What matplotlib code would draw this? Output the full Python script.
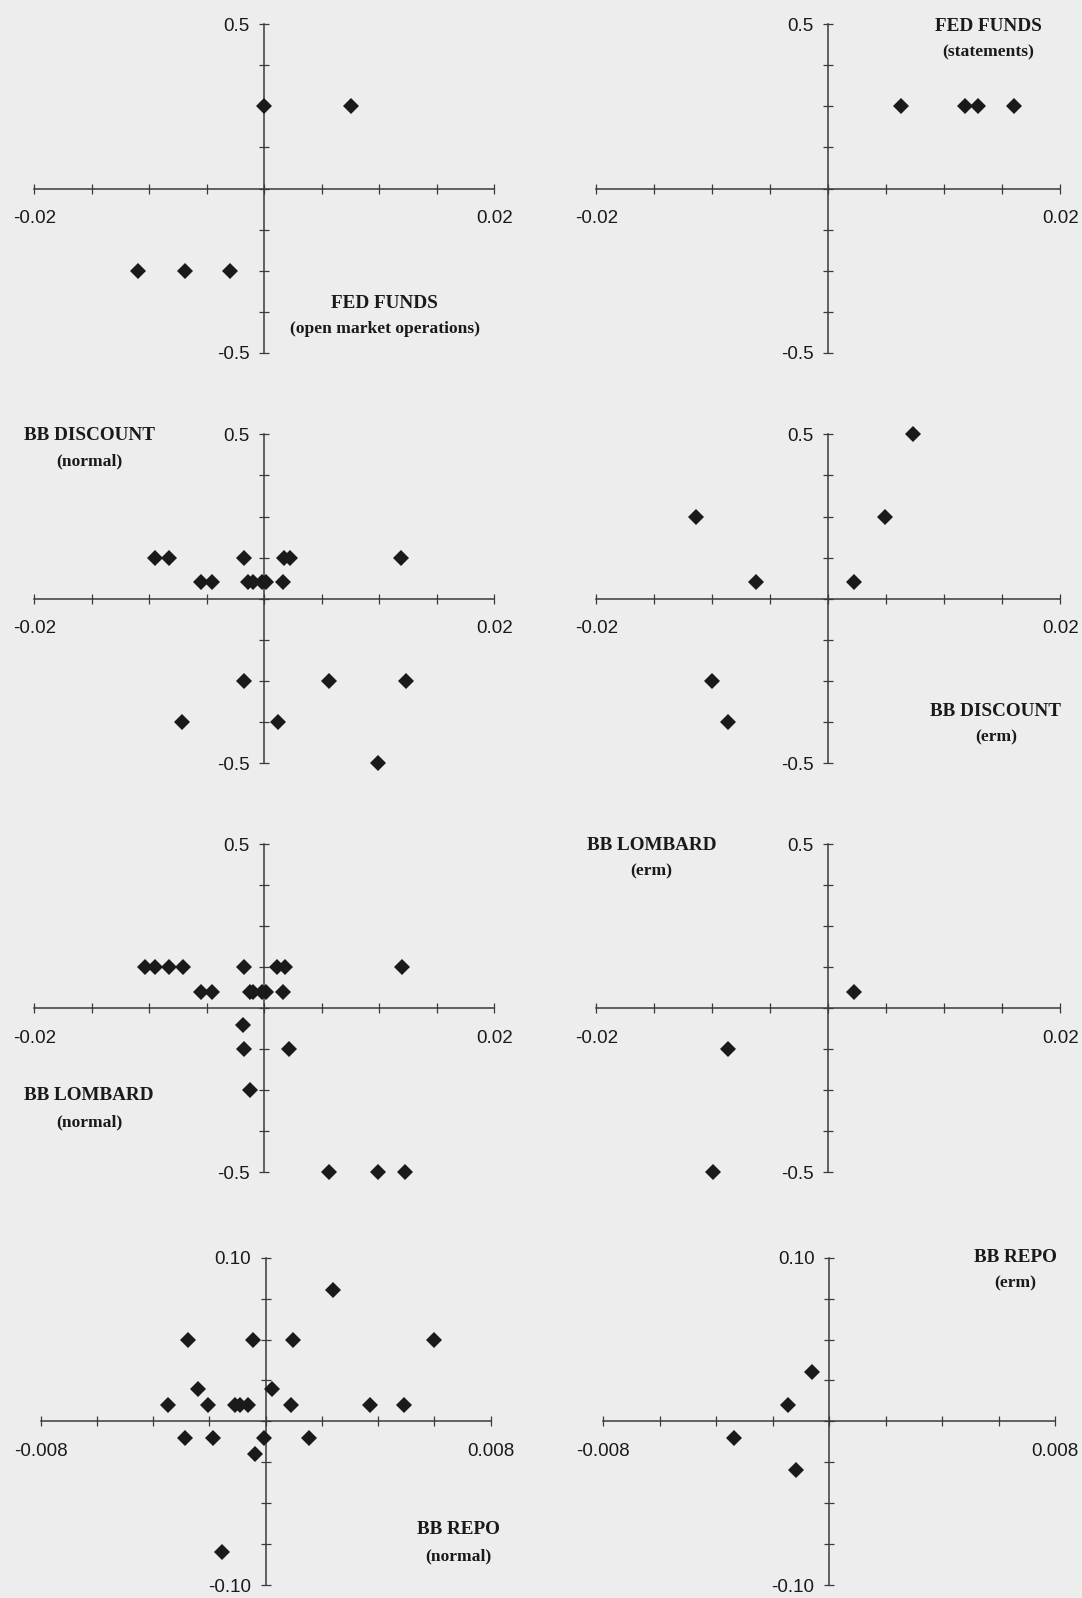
import numpy as np
import matplotlib
matplotlib.use("Agg")
import matplotlib.pyplot as plt
from matplotlib.ticker import FixedLocator, FixedFormatter

# ---- data: x = rate surprise, y = response -------------------------------
fed_omo_x = [0.0, 0.0075, -0.0110, -0.0069, -0.0030]
fed_omo_y = [0.25, 0.25, -0.25, -0.25, -0.25]

fed_stmt_x = [0.00625, 0.0118, 0.0129, 0.0160]
fed_stmt_y = [0.25, 0.25, 0.25, 0.25]

disc_norm_x = [-0.0095, -0.0083, -0.0018, 0.0017, 0.0022, 0.0119,
               -0.0055, -0.0046, -0.0014, -0.0010, -0.0002, 0.0001, 0.0016,
               -0.0018, 0.0056, 0.0123,
               -0.0072, 0.0012,
               0.0099]
disc_norm_y = [0.125, 0.125, 0.125, 0.125, 0.125, 0.125,
               0.05, 0.05, 0.05, 0.05, 0.05, 0.05, 0.05,
               -0.25, -0.25, -0.25,
               -0.375, -0.375,
               -0.5]

disc_erm_x = [0.0073, -0.0114, 0.0049, -0.0062, 0.0022, -0.0100, -0.0086]
disc_erm_y = [0.5, 0.25, 0.25, 0.05, 0.05, -0.25, -0.375]

lomb_norm_x = [-0.0104, -0.0095, -0.0083, -0.0071, -0.0018, 0.0011, 0.0018, 0.0120,
               -0.0055, -0.0046, -0.0013, -0.0010, -0.0002, 0.0001, 0.0016,
               -0.0019,
               -0.0018, 0.0021,
               -0.0013,
               0.0056, 0.0099, 0.0122]
lomb_norm_y = [0.125, 0.125, 0.125, 0.125, 0.125, 0.125, 0.125, 0.125,
               0.05, 0.05, 0.05, 0.05, 0.05, 0.05, 0.05,
               -0.05,
               -0.125, -0.125,
               -0.25,
               -0.5, -0.5, -0.5]

lomb_erm_x = [0.0022, -0.0086, -0.0099]
lomb_erm_y = [0.05, -0.125, -0.5]

repo_norm_x = [-0.00276, -0.00043, 0.00098, 0.00598,
               0.00239,
               -0.00239, 0.00022,
               -0.00346, -0.00205, -0.00107, -0.00090, -0.00061, 0.00092, 0.00371, 0.00493,
               -0.00288, -0.00188, -0.00006, 0.00156,
               -0.00037,
               -0.00153]
repo_norm_y = [0.05, 0.05, 0.05, 0.05,
               0.08,
               0.02, 0.02,
               0.01, 0.01, 0.01, 0.01, 0.01, 0.01, 0.01, 0.01,
               -0.01, -0.01, -0.01, -0.01,
               -0.02,
               -0.08]

repo_erm_x = [-0.00061, -0.00144, -0.00338, -0.00116]
repo_erm_y = [0.03, 0.01, -0.01, -0.03]

# axis scales
rate_lim = 0.02
rate_step = 0.005
resp_lim = 0.5
resp_step = 0.125
repo_rate_lim = 0.008
repo_rate_step = 0.002
repo_resp_lim = 0.10
repo_resp_step = 0.025

# ---- figure ---------------------------------------------------------------
W, H = 1082, 1598
BG = "#ededed"
INK = "#1a1a1a"
AX_INK = "#3a3a3a"

fig = plt.figure(figsize=(W / 100, H / 100), dpi=100, facecolor=BG)

TICK_FONT = dict(family="Liberation Sans", size=13.5, color=INK)
TITLE_FONT = dict(family="Liberation Serif", weight="bold", size=13.8, color=INK)
SUB_FONT = dict(family="Liberation Serif", weight="bold", size=12.6, color=INK)


def make_panel(box, xs, ys, xlim, xstep, ylim, ystep, xfmt, yfmt):
    left, right, top, bottom = box
    ax = fig.add_axes([left / W, 1 - bottom / H, (right - left) / W, (bottom - top) / H])
    ax.set_facecolor("none")
    ax.set_xlim(-xlim, xlim)
    ax.set_ylim(-ylim, ylim)

    for side in ("top", "right"):
        ax.spines[side].set_visible(False)
    for side in ("left", "bottom"):
        ax.spines[side].set_position("zero")
        ax.spines[side].set_color(AX_INK)
        ax.spines[side].set_linewidth(1.1)

    nx = int(round(2 * xlim / xstep))
    ny = int(round(2 * ylim / ystep))
    xt = np.linspace(-xlim, xlim, nx + 1)
    yt = np.linspace(-ylim, ylim, ny + 1)
    xl = [""] * len(xt)
    yl = [""] * len(yt)
    xl[0], xl[-1] = xfmt.format(-xlim), xfmt.format(xlim)
    yl[0], yl[-1] = yfmt.format(-ylim), yfmt.format(ylim)
    ax.xaxis.set_major_locator(FixedLocator(xt))
    ax.xaxis.set_major_formatter(FixedFormatter(xl))
    ax.yaxis.set_major_locator(FixedLocator(yt))
    ax.yaxis.set_major_formatter(FixedFormatter(yl))
    ax.tick_params(axis="both", direction="inout", length=7, width=0.9, color=AX_INK)
    ax.tick_params(axis="x", pad=12)
    ax.tick_params(axis="y", pad=7)
    for lab in ax.get_xticklabels() + ax.get_yticklabels():
        lab.set_fontfamily(TICK_FONT["family"])
        lab.set_fontsize(TICK_FONT["size"])
        lab.set_color(TICK_FONT["color"])

    ax.plot(xs, ys, linestyle="none", marker="D", markersize=8.4,
            color=INK, markeredgewidth=0, clip_on=False, zorder=3)
    return ax


def label(x, y, title, sub, sub_dy=26):
    fig.text(x / W, 1 - y / H, title, ha="center", va="center", **TITLE_FONT)
    fig.text(x / W, 1 - (y + sub_dy) / H, sub, ha="center", va="center", **SUB_FONT)


LEFT = (34.5, 494.4)
RIGHT = (596.2, 1060.3)
ROWS = [(24.3, 352.7), (434.3, 763.3), (844.3, 1172.3), (1257.7, 1585.0)]

main = dict(xlim=rate_lim, xstep=rate_step, ylim=resp_lim, ystep=resp_step,
            xfmt="{:.2f}", yfmt="{:.1f}")
repo = dict(xlim=repo_rate_lim, xstep=repo_rate_step, ylim=repo_resp_lim,
            ystep=repo_resp_step, xfmt="{:.3f}", yfmt="{:.2f}")

make_panel((*LEFT, *ROWS[0]), fed_omo_x, fed_omo_y, **main)
make_panel((*RIGHT, *ROWS[0]), fed_stmt_x, fed_stmt_y, **main)
make_panel((*LEFT, *ROWS[1]), disc_norm_x, disc_norm_y, **main)
make_panel((*RIGHT, *ROWS[1]), disc_erm_x, disc_erm_y, **main)
make_panel((*LEFT, *ROWS[2]), lomb_norm_x, lomb_norm_y, **main)
make_panel((*RIGHT, *ROWS[2]), lomb_erm_x, lomb_erm_y, **main)
make_panel((40.5, 490.5, *ROWS[3]), repo_norm_x, repo_norm_y, **repo)
make_panel((603.3, 1055.0, *ROWS[3]), repo_erm_x, repo_erm_y, **repo)

label(384.5, 303.3, "FED FUNDS", "(open market operations)")
label(988.5, 26.7, "FED FUNDS", "(statements)")
label(89.7, 435.0, "BB DISCOUNT", "(normal)")
label(996.0, 711.0, "BB DISCOUNT", "(erm)")
label(89.0, 1096.0, "BB LOMBARD", "(normal)")
label(651.4, 845.7, "BB LOMBARD", "(erm)")
label(458.2, 1530.0, "BB REPO", "(normal)")
label(1015.0, 1257.3, "BB REPO", "(erm)")

fig.savefig("out.png", dpi=100, facecolor=BG)
